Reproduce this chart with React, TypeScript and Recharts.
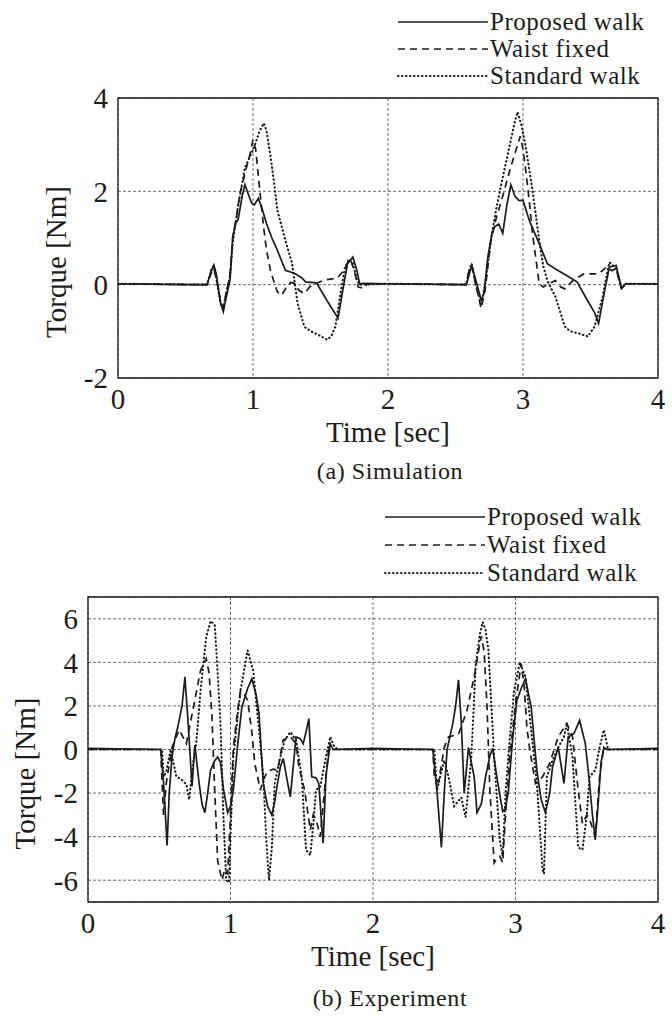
import React from 'react';
import { LineChart, Line, XAxis, YAxis, CartesianGrid, ReferenceArea, Legend } from 'recharts';

type Pt = [number, number];

// axis ticks and legend names
const xTicks = [0, 1, 2, 3, 4];
const simYTicks = [-2, 0, 2, 4];
const expYTicks = [-6, -4, -2, 0, 2, 4, 6];
const seriesNames = ['Proposed walk', 'Waist fixed', 'Standard walk'];

// (a) Simulation, [time sec, torque Nm]
const simProposed: Pt[] = [
  [0, 0.02], [0.5, 0.0], [0.66, 0.0], [0.69, 0.3], [0.71, 0.42], [0.73, 0.2], [0.76, -0.4], [0.78, -0.58],
  [0.8, -0.3], [0.83, 0.1], [0.85, 1.03], [0.87, 1.3], [0.89, 1.4], [0.92, 1.9], [0.94, 2.14], [0.97, 1.9],
  [0.99, 1.75], [1.01, 1.71], [1.04, 1.85], [1.07, 1.6], [1.1, 1.31], [1.14, 1.0], [1.18, 0.74], [1.24, 0.31],
  [1.31, 0.24], [1.36, 0.15], [1.39, 0.06], [1.47, 0.04], [1.55, -0.35], [1.63, -0.72], [1.66, -0.2], [1.7, 0.45],
  [1.74, 0.59], [1.77, 0.3], [1.79, 0.02], [1.82, 0.03], [2.0, 0.02], [2.58, 0.0], [2.6, 0.2], [2.62, 0.41],
  [2.65, 0.1], [2.69, -0.33], [2.71, -0.2], [2.74, 0.6], [2.77, 1.1], [2.79, 1.24], [2.82, 1.3], [2.85, 1.1],
  [2.88, 1.7], [2.91, 2.14], [2.94, 1.9], [2.97, 1.8], [3.0, 1.81], [3.05, 1.35], [3.11, 0.95], [3.18, 0.45],
  [3.25, 0.32], [3.32, 0.2], [3.4, 0.06], [3.48, -0.35], [3.53, -0.6], [3.56, -0.83], [3.6, -0.2], [3.64, 0.38],
  [3.69, 0.41], [3.73, -0.08], [3.76, 0.02], [4, 0.02],
];
const simWaist: Pt[] = [
  [0, 0.02], [0.66, 0.0], [0.69, 0.25], [0.71, 0.35], [0.73, 0.1], [0.76, -0.35], [0.78, -0.5], [0.8, -0.2],
  [0.83, 0.2], [0.85, 1.0], [0.88, 1.5], [0.9, 1.9], [0.94, 2.39], [0.97, 2.7], [1.0, 3.1], [1.02, 2.9],
  [1.05, 2.03], [1.08, 1.2], [1.1, 0.74], [1.13, 0.3], [1.16, 0.02], [1.18, -0.15], [1.21, -0.23], [1.25, -0.05],
  [1.28, 0.05], [1.31, 0.02], [1.34, -0.12], [1.38, -0.19], [1.42, -0.05], [1.46, 0.02], [1.53, 0.1], [1.6, 0.13],
  [1.62, 0.13], [1.67, 0.3], [1.72, 0.55], [1.75, 0.3], [1.78, -0.05], [1.82, -0.08], [1.85, 0.02], [2.0, 0.02],
  [2.58, 0.0], [2.6, 0.3], [2.62, 0.4], [2.65, 0.0], [2.69, -0.51], [2.72, -0.1], [2.76, 0.9], [2.79, 1.31],
  [2.85, 1.9], [2.91, 2.53], [2.95, 2.9], [2.98, 3.18], [3.0, 2.9], [3.02, 2.46], [3.05, 1.7], [3.07, 1.1],
  [3.12, 0.02], [3.15, -0.05], [3.19, 0.02], [3.24, 0.09], [3.28, -0.05], [3.31, -0.09], [3.37, 0.09], [3.45, 0.23],
  [3.52, 0.23], [3.56, 0.23], [3.62, 0.38], [3.66, 0.3], [3.69, 0.35], [3.71, 0.1], [3.73, -0.08], [3.76, 0.02],
  [4, 0.02],
];
const simStandard: Pt[] = [
  [0, 0.02], [0.66, 0.0], [0.69, 0.3], [0.71, 0.4], [0.73, 0.1], [0.76, -0.4], [0.78, -0.5], [0.8, -0.2],
  [0.83, 0.2], [0.85, 0.9], [0.89, 1.7], [0.94, 2.5], [1.01, 2.96], [1.05, 3.3], [1.08, 3.46], [1.1, 3.3],
  [1.13, 2.75], [1.16, 2.1], [1.18, 1.6], [1.24, 0.95], [1.29, 0.45], [1.33, -0.4], [1.38, -0.9], [1.43, -1.0],
  [1.5, -1.1], [1.55, -1.18], [1.58, -1.1], [1.61, -0.9], [1.66, 0.02], [1.68, 0.35], [1.71, 0.55], [1.74, 0.45],
  [1.77, 0.1], [1.79, 0.0], [2, 0.02], [2.58, 0.0], [2.6, 0.3], [2.62, 0.45], [2.65, 0.0], [2.69, -0.4],
  [2.72, 0.0], [2.76, 0.9], [2.8, 1.6], [2.85, 2.3], [2.91, 3.1], [2.94, 3.5], [2.96, 3.7], [2.99, 3.4],
  [3.02, 2.96], [3.07, 2.03], [3.12, 0.95], [3.15, 0.4], [3.18, 0.09], [3.24, -0.26], [3.31, -0.9], [3.35, -1.0],
  [3.42, -1.05], [3.48, -1.11], [3.53, -0.9], [3.59, -0.26], [3.62, 0.2], [3.64, 0.48], [3.69, 0.35], [3.73, -0.08],
  [3.76, 0.02], [4, 0.02],
];

// (b) Experiment, [time sec, torque Nm]
const expProposed: Pt[] = [
  [0, 0.05], [0.51, 0.0], [0.53, -1.5], [0.555, -4.4], [0.57, -2.0], [0.59, -0.3], [0.61, 0.5], [0.63, 1.04],
  [0.66, 2.0], [0.68, 3.33], [0.7, 1.5], [0.71, 0.43], [0.73, -1.7], [0.75, 0.2], [0.78, -1.56], [0.8, -2.5],
  [0.82, -2.9], [0.84, -2.0], [0.86, -0.95], [0.89, -0.5], [0.91, -0.34], [0.93, -0.6], [0.95, -1.8], [0.98, -2.9],
  [1.0, -2.6], [1.02, -1.86], [1.05, 0.2], [1.08, 1.95], [1.12, 2.8], [1.15, 3.25], [1.18, 2.5], [1.2, 1.65],
  [1.23, -1.56], [1.26, -2.6], [1.29, -3.0], [1.31, -2.4], [1.33, -1.56], [1.35, -0.8], [1.37, -0.41], [1.4, -1.5],
  [1.42, -2.17], [1.44, -0.8], [1.46, 0.58], [1.49, 0.5], [1.51, 0.27], [1.53, 0.8], [1.55, 1.42], [1.57, -1.25],
  [1.6, -1.3], [1.62, -1.56], [1.64, -3.5], [1.65, -4.3], [1.67, -1.2], [1.7, 0.27], [1.72, 0.0], [2.0, 0.05],
  [2.42, 0.0], [2.45, -2.0], [2.48, -4.5], [2.5, -2.0], [2.52, 0.0], [2.56, 1.2], [2.58, 2.0], [2.6, 3.2],
  [2.62, 1.2], [2.64, -2.0], [2.67, 0.1], [2.69, -0.6], [2.71, -1.25], [2.73, -2.9], [2.76, -2.5], [2.79, -1.25],
  [2.82, -0.3], [2.84, 0.05], [2.87, -1.3], [2.91, -2.85], [2.93, -2.7], [2.95, -1.9], [2.98, 0.5], [3.01, 2.26],
  [3.04, 2.8], [3.07, 3.25], [3.09, 2.6], [3.11, 1.95], [3.15, -0.95], [3.18, -2.3], [3.21, -2.9], [3.24, -2.0],
  [3.26, -0.8], [3.3, 0.1], [3.34, -1.56], [3.37, 0.58], [3.41, 0.73], [3.45, 1.34], [3.49, 0.27], [3.52, -1.56],
  [3.54, -3.0], [3.56, -4.15], [3.58, -2.5], [3.6, -0.6], [3.62, 0.1], [3.64, 0.0], [4, 0.05],
];
const expWaist: Pt[] = [
  [0, 0.0], [0.51, 0.0], [0.52, -1.56], [0.53, -3.0], [0.55, -1.5], [0.59, 0.1], [0.64, 0.9], [0.69, 0.27],
  [0.74, 1.95], [0.79, 3.63], [0.83, 4.17], [0.85, 3.5], [0.87, 1.5], [0.89, -2.0], [0.91, -5.1], [0.94, -6.0],
  [0.96, -5.5], [0.98, -5.7], [1.0, -3.0], [1.02, 0.1], [1.05, 1.8], [1.07, 2.7], [1.1, 2.5], [1.12, 2.26],
  [1.15, 0.8], [1.17, -0.64], [1.21, -1.86], [1.23, -1.4], [1.26, -1.0], [1.3, -0.9], [1.33, -0.95], [1.37, 0.43],
  [1.42, 0.6], [1.46, 0.27], [1.48, -0.8], [1.52, -1.86], [1.56, -3.7], [1.58, -3.0], [1.6, -3.2], [1.63, -4.0],
  [1.66, -1.86], [1.69, 0.1], [1.72, 0.0], [2, 0.0], [2.42, 0.0], [2.43, -1.25], [2.46, -1.5], [2.5, 0.1],
  [2.53, 0.58], [2.6, 0.7], [2.66, 1.8], [2.71, 3.33], [2.74, 4.5], [2.76, 5.2], [2.78, 4.5], [2.8, 2.0],
  [2.82, -1.86], [2.85, -5.2], [2.87, -5.0], [2.89, -4.9], [2.91, -5.2], [2.93, -3.0], [2.96, -0.34], [3.0, 2.1],
  [3.04, 3.94], [3.06, 3.0], [3.08, 1.0], [3.1, 0.0], [3.14, -1.56], [3.19, -1.25], [3.24, -0.64], [3.3, 0.58],
  [3.36, 1.2], [3.4, 0.58], [3.44, -1.86], [3.47, -3.4], [3.5, -3.0], [3.52, -3.2], [3.56, -4.0], [3.59, -1.25],
  [3.62, 0.1], [3.64, 0.0], [4, 0.0],
];
const expStandard: Pt[] = [
  [0, 0.0], [0.52, 0.0], [0.53, -1.25], [0.55, -1.0], [0.58, 0.0], [0.62, -1.25], [0.66, -1.4], [0.69, -1.6],
  [0.71, -2.3], [0.74, -0.5], [0.76, 0.3], [0.79, 2.7], [0.81, 4.0], [0.83, 5.16], [0.86, 5.9], [0.89, 5.7],
  [0.91, 3.5], [0.93, 1.2], [0.95, -3.0], [0.97, -6.0], [0.99, -6.1], [1.0, -4.0], [1.02, -0.34], [1.05, 1.5],
  [1.07, 2.7], [1.12, 4.55], [1.16, 3.6], [1.2, 0.9], [1.23, -1.25], [1.25, -4.0], [1.27, -6.0], [1.29, -4.5],
  [1.31, -1.56], [1.35, -0.34], [1.38, 0.43], [1.42, 0.8], [1.46, 0.43], [1.5, -1.25], [1.53, -4.6], [1.56, -4.85],
  [1.58, -3.5], [1.6, -1.86], [1.63, -1.7], [1.67, -0.34], [1.7, 0.58], [1.73, 0.1], [1.76, 0.0], [2, 0.0],
  [2.43, 0.0], [2.45, -1.86], [2.48, -1.0], [2.5, -0.5], [2.53, -1.25], [2.57, -2.6], [2.62, -2.2], [2.65, -3.1],
  [2.69, -0.34], [2.72, 3.8], [2.75, 5.3], [2.77, 5.85], [2.79, 5.5], [2.81, 4.55], [2.85, -0.34], [2.89, -4.15],
  [2.91, -4.9], [2.93, -2.0], [2.96, 0.5], [2.99, 2.7], [3.03, 4.0], [3.07, 3.33], [3.11, 0.9], [3.15, -1.56],
  [3.19, -5.5], [3.2, -5.7], [3.22, -1.25], [3.26, -0.5], [3.3, 0.1], [3.34, 0.58], [3.36, 1.2], [3.4, -0.34],
  [3.44, -4.5], [3.47, -4.6], [3.5, -3.0], [3.52, -1.25], [3.56, -0.95], [3.59, 0.1], [3.62, 0.9], [3.65, 0.0],
  [4, 0.0],
];

const FONT = '"Liberation Serif", "Times New Roman", Times, serif';
const INK = '#1c1c1c';

const strokes = [
  { dash: undefined as string | undefined, width: 1.7, cap: 'butt' as const },
  { dash: '7 5', width: 1.7, cap: 'butt' as const },
  { dash: '0.5 3.5', width: 2.1, cap: 'round' as const },
];

const toRows = (pts: Pt[]) => pts.map(([t, v]) => ({ t, v }));

function LegendBox({ lineLen, step }: { lineLen: number; step: number }) {
  return (
    <svg width={286} height={92} style={{ display: 'block', fontFamily: FONT }}>
      {seriesNames.map((name, i) => {
        const y = 14 + i * step;
        return (
          <g key={name}>
            <line x1={2} x2={2 + lineLen} y1={y} y2={y} stroke={INK} strokeWidth={strokes[i].width}
              strokeDasharray={strokes[i].dash} strokeLinecap={strokes[i].cap} />
            <text x={lineLen + 4} y={y + 8} fontSize={25} letterSpacing={0.5} fill={INK}>{name}</text>
          </g>
        );
      })}
    </svg>
  );
}

type PanelProps = {
  height: number;
  top: number;
  marginTop: number;
  marginBottom: number;
  xAxisHeight: number;
  yAxisWidth: number;
  yDomain: [number, number];
  yTicks: number[];
  series: Pt[][];
  legendLeft: number;
  legendTop: number;
  legendLine: number;
  legendStep: number;
  yLabelDx: number;
};

function Panel(p: PanelProps) {
  const tickStyle = { fontSize: 29, fill: INK };
  return (
    <div style={{ position: 'absolute', left: 0, top: p.top, fontFamily: FONT }}>
      <LineChart width={672} height={p.height} style={{ fontFamily: FONT }}
        margin={{ top: p.marginTop, right: 14, bottom: p.marginBottom, left: 0 }}>
        <CartesianGrid stroke="#444" strokeWidth={0.8} strokeDasharray="3 2" />
        <XAxis dataKey="t" type="number" domain={[0, 4]} ticks={xTicks} allowDataOverflow
          height={p.xAxisHeight} axisLine={false} tickLine={false} tickMargin={4} tick={tickStyle}
          label={{ value: 'Time [sec]', position: 'insideBottom', offset: 0, fontSize: 29, fill: INK }} />
        <YAxis type="number" domain={p.yDomain} ticks={p.yTicks} allowDataOverflow width={p.yAxisWidth}
          axisLine={false} tickLine={false} tickMargin={4} tick={tickStyle}
          label={{ value: 'Torque [Nm]', angle: -90, position: 'center', dx: p.yLabelDx, dy: 24, fontSize: 29, fill: INK }} />
        <ReferenceArea x1={0} x2={4} y1={p.yDomain[0]} y2={p.yDomain[1]} fill="none" stroke={INK}
          strokeWidth={1.3} ifOverflow="visible" />
        {p.series.map((s, i) => (
          <Line key={seriesNames[i]} name={seriesNames[i]} data={toRows(s)} dataKey="v" type="linear"
            stroke={INK} strokeWidth={strokes[i].width} strokeDasharray={strokes[i].dash}
            strokeLinecap={strokes[i].cap} dot={false} activeDot={false} isAnimationActive={false} />
        ))}
        <Legend layout="horizontal" verticalAlign="middle" align="center"
          wrapperStyle={{ left: p.legendLeft, top: p.legendTop, width: 286 }}
          content={() => <LegendBox lineLen={p.legendLine} step={p.legendStep} />} />
      </LineChart>
    </div>
  );
}

const captionStyle: React.CSSProperties = {
  position: 'absolute', left: 0, width: 780, textAlign: 'center',
  fontFamily: FONT, fontSize: 24, letterSpacing: 0.6, color: INK, lineHeight: '28px',
};

export default function App() {
  return (
    <div style={{ position: 'absolute', left: 0, top: 0, width: 672, height: 1024, background: '#fff' }}>
      <Panel height={480} top={0} marginTop={98} marginBottom={38} xAxisHeight={64} yAxisWidth={118}
        yDomain={[-2, 4]} yTicks={simYTicks} series={[simProposed, simWaist, simStandard]}
        legendLeft={396} legendTop={8} legendLine={90} legendStep={27} yLabelDx={-3} />
      <div style={{ ...captionStyle, top: 457 }}>(a) Simulation</div>
      <Panel height={544} top={480} marginTop={117} marginBottom={58} xAxisHeight={64} yAxisWidth={88}
        yDomain={[-7, 7]} yTicks={expYTicks} series={[expProposed, expWaist, expStandard]}
        legendLeft={383} legendTop={23} legendLine={100} legendStep={28} yLabelDx={-19} />
      <div style={{ ...captionStyle, top: 984 }}>(b) Experiment</div>
    </div>
  );
}
